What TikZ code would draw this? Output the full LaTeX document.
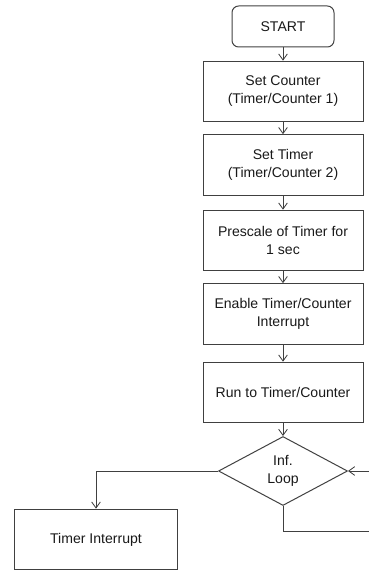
\documentclass[tikz,border=0pt]{standalone}
\usepackage{fontspec}
\setmainfont{Liberation Sans}
\usetikzlibrary{arrows.meta}
\usetikzlibrary{shapes.geometric}

\begin{document}
\begin{tikzpicture}[x=0.03cm,y=-0.03cm]
	\tikzset{
	  every node/.style={font=\fontsize{12}{15.4}\selectfont,text=black!90,align=center},
	  ln/.style={draw=black!75,line width=0.3mm},
	  arr/.style={ln,-{Straight Barb[length=1.8mm,width=2.6mm,line width=0.25mm]}},
	  startbox/.style={ln,rounded corners=2mm,minimum width=3.06cm,minimum height=1.23cm,inner sep=0pt},
	  stepbox/.style={ln,minimum width=4.8cm,minimum height=1.82cm,inner sep=0pt},
	  decbox/.style={ln,diamond,aspect=1.87,minimum width=3.87cm,minimum height=2.07cm,inner sep=0pt}
	}
	\useasboundingbox (0,0) rectangle (368,571);
	%NODES
	\node[startbox] (start) at (283,26.5) {START};
	\node[stepbox] (cnt) at (283,91.5)  {Set Counter\\(Timer/Counter 1)};
	\node[stepbox] (tmr) at (283,165)   {Set Timer\\(Timer/Counter 2)};
	\node[stepbox] (pre) at (283,240.5) {Prescale of Timer for\\1 sec};
	\node[stepbox] (ena) at (283,314)   {Enable Timer/Counter\\Interrupt};
	\node[stepbox] (run) at (283,392.5) {Run to Timer/Counter};
	\node[decbox]  (loop) at (283,471)  {Inf.\\Loop};
	\node[stepbox,minimum width=4.86cm] (isr) at (96,539.5) {Timer Interrupt};
	\coordinate (back) at (375,531);
	%ARROWS
	\foreach \a/\b in {start/cnt,cnt/tmr,tmr/pre,pre/ena,ena/run,run/loop} {
		\draw[arr] (\a) -- (\b);
	  }
	\draw[arr] (loop.west) -| (isr.north);
	\draw[arr] (loop.south) |- (back) |- (loop.east);
\end{tikzpicture}
\end{document}
